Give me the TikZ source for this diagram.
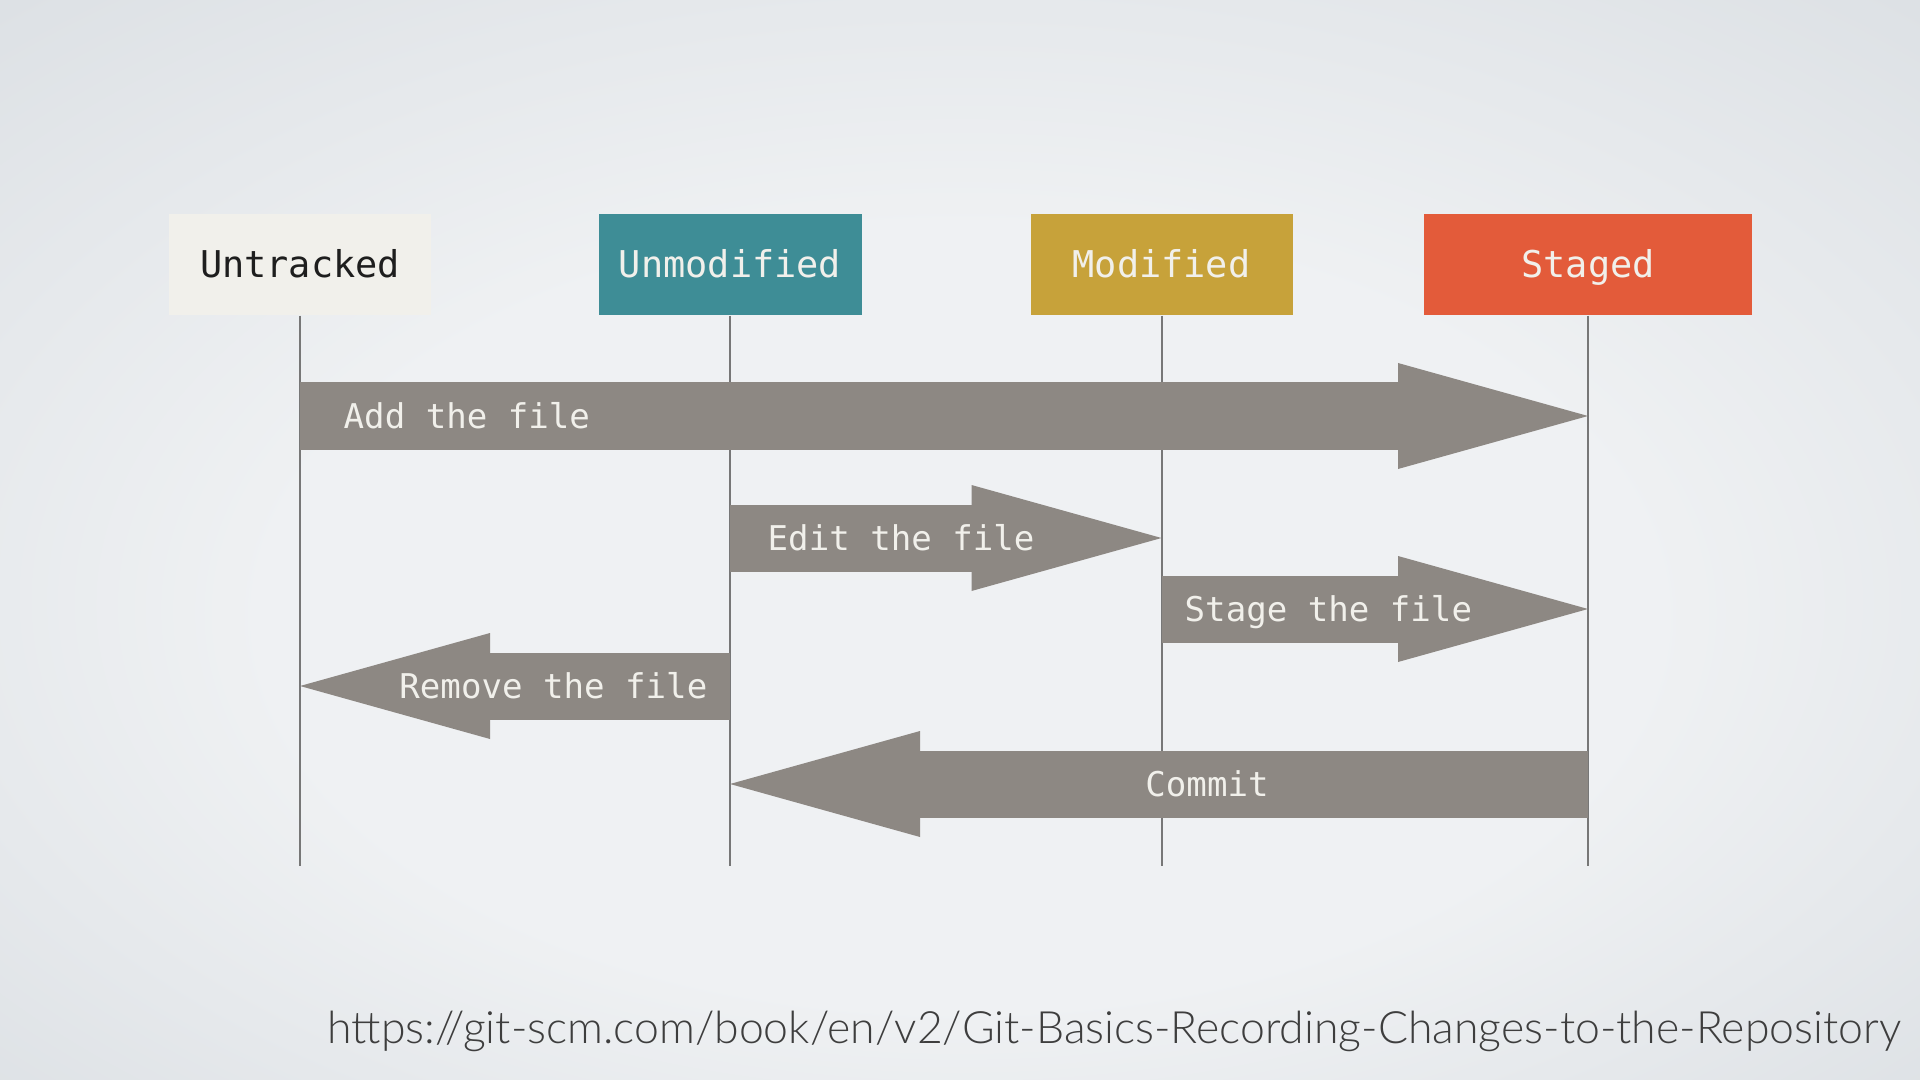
\documentclass[tikz,border=0pt]{standalone}
\usepackage{fontspec}
\setmonofont{DejaVu Sans Mono}
\newfontfamily\urlfont{Lato Light}
\usetikzlibrary{arrows.meta}
\definecolor{BgLight}{HTML}{EFF1F3}
\definecolor{BgDark}{HTML}{D4D9DE}
\definecolor{Cream}{HTML}{F1F0EB}
\definecolor{Teal}{HTML}{3E8D96}
\definecolor{Mustard}{HTML}{C7A23A}
\definecolor{Tomato}{HTML}{E35B3A}
\definecolor{ArrowGrey}{HTML}{8D8883}
\definecolor{LineGrey}{HTML}{777777}
\definecolor{Ink}{HTML}{1E1E1E}
\definecolor{UrlGrey}{HTML}{3E3E3E}
\pgfdeclareradialshading{backdrop}{\pgfpoint{0bp}{-6bp}}{color(0bp)=(BgLight); color(18bp)=(BgLight); color(45bp)=(BgDark)}

\begin{document}
\begin{tikzpicture}[y=-1cm, font=\ttfamily,
    state/.style={rectangle, minimum height=1.01cm, inner sep=0pt, text=Cream,
        text height=0.73em, text depth=0pt, font=\ttfamily\fontsize{10.5}{12}\selectfont},
    lifeline/.style={LineGrey, line width=0.2mm},
    fatarrow/.style={ArrowGrey, line width=6.7mm,
        -{Triangle[length=19mm, width=10.6mm, line width=0pt]}},
    arrowtext/.style={inner sep=0pt, text=Cream, text height=0.73em, text depth=0pt,
        font=\ttfamily\fontsize{9.7}{12}\selectfont}]
    \shade[shading=backdrop] (0, 0) rectangle (19.2, 10.8);
    \useasboundingbox (0, 0) rectangle (19.2, 10.8);

    \node[state, fill=Cream, text=Ink, minimum width=2.62cm] (untracked) at (3.00, 2.645) {Untracked};
    \node[state, fill=Teal, minimum width=2.63cm] (unmodified) at (7.30, 2.645) {Unmodified};
    \node[state, fill=Mustard, minimum width=2.62cm] (modified) at (11.615, 2.645) {Modified};
    \node[state, fill=Tomato, minimum width=3.28cm] (staged) at (15.88, 2.645) {Staged};

    \foreach \s in {untracked, unmodified, modified, staged} {
        \draw[lifeline] (\s.south) -- (\s.south |- 0, 8.66);
    }

    \draw[fatarrow] (untracked |- 0, 4.16) -- (staged |- 0, 4.16);
    \draw[fatarrow] (unmodified |- 0, 5.38) -- (modified |- 0, 5.38);
    \draw[fatarrow] (modified |- 0, 6.09) -- (staged |- 0, 6.09);
    \draw[fatarrow] (unmodified |- 0, 6.86) -- (untracked |- 0, 6.86);
    \draw[fatarrow] (staged |- 0, 7.84) -- (unmodified |- 0, 7.84);

    \node[arrowtext, anchor=west] (add) at (3.43, 4.16) {Add the file};
    \node[arrowtext, anchor=west] (edit) at (7.67, 5.38) {Edit the file};
    \node[arrowtext, anchor=west] (stage) at (11.84, 6.09) {Stage the file};
    \node[arrowtext, anchor=east] (remove) at (7.08, 6.86) {Remove the file};
    \node[arrowtext] (commit) at (12.07, 7.84) {Commit};

    \node[anchor=base west, inner sep=0pt, text=UrlGrey, font=\urlfont] (source) at (3.27, 10.43)
        {\resizebox{157.3mm}{!}{https://git-scm.com/book/en/v2/Git-Basics-Recording-Changes-to-the-Repository}};
\end{tikzpicture}
\end{document}
